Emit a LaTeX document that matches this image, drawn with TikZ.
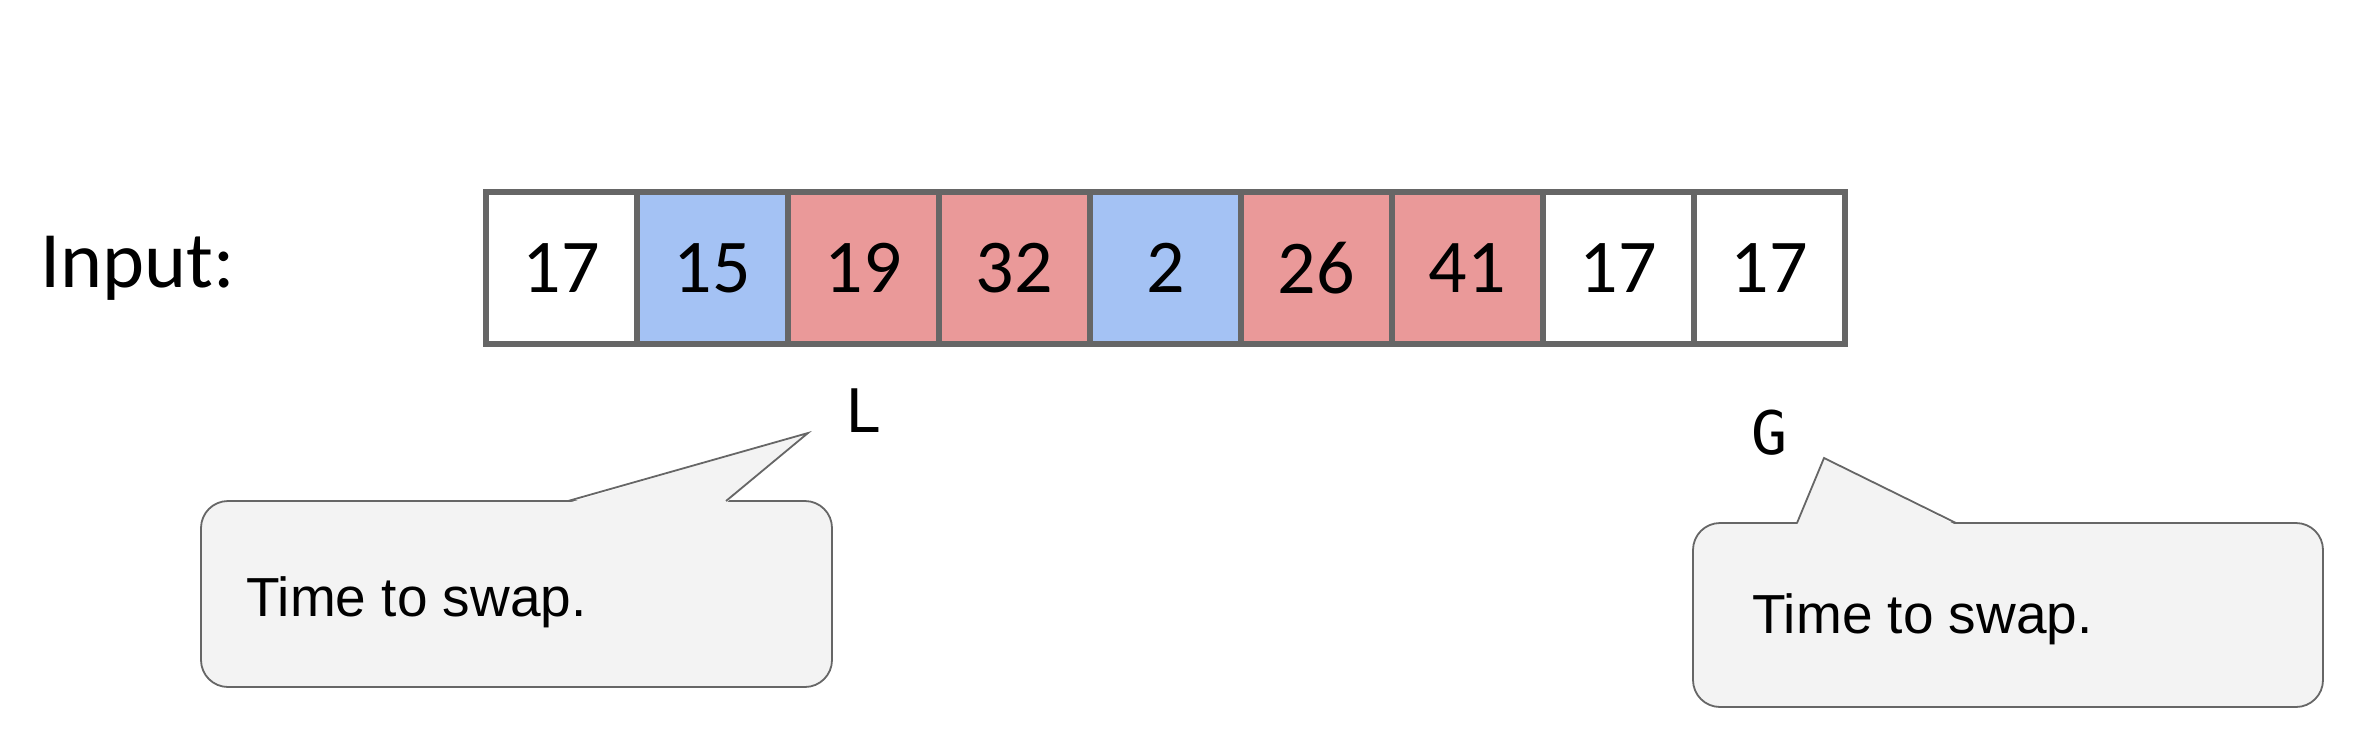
\documentclass[tikz,border=0pt]{standalone}
\usepackage{fontspec}
\setmainfont{Carlito}
\newfontfamily\calloutfont{Liberation Sans}
\newfontfamily\monofont{DejaVu Sans Mono}
\definecolor{cellblue}{HTML}{A4C2F4}
\definecolor{cellred}{HTML}{EA9999}
\definecolor{edgegray}{HTML}{666666}
\definecolor{calloutfill}{HTML}{F3F3F3}
\tikzset{
  cellbox/.style={draw=edgegray, line width=2.8pt, minimum width=75.5pt, minimum height=76pt, inner sep=0pt, font=\fontsize{38}{40}\selectfont},
  calloutshape/.style={draw=edgegray, fill=calloutfill, line width=0.9pt, rounded corners=13.5pt},
  callouttext/.style={font=\calloutfont\fontsize{27.5}{30}\selectfont, anchor=base west, inner sep=0pt},
  pointer/.style={font=\monofont\fontsize{30}{32}\selectfont, inner sep=0pt},
}
\begin{document}
\begin{tikzpicture}[x=0.5pt,y=-0.5pt]
\useasboundingbox (0,0) rectangle (2368,734);
\node[anchor=base west, inner sep=0pt, font=\fontsize{40}{44}\selectfont] (input) at (40,287) {Input:};
\foreach \v/\c [count=\i] in {17/white,15/cellblue,19/cellred,32/cellred,2/cellblue,26/cellred,41/cellred,17/white,17/white}{
  \node[cellbox, fill=\c] (c\i) at ({486+151*(\i-0.5)},268) {\v};
}
\node[pointer] (L) at (864,411) {L};
\node[pointer] (G) at (1770,433) {G};
% callout 1
\draw[calloutshape] (201,501) rectangle (832,687);
\fill[calloutfill] (568,503) -- (808,433) -- (726,503) -- cycle;
\draw[edgegray, line width=0.9pt, line join=miter] (568,501) -- (808,433) -- (726,501);
\node[callouttext] (t1) at (246,616) {Time to swap.};
% callout 2
\draw[calloutshape] (1693,523) rectangle (2323,707);
\fill[calloutfill] (1797,525) -- (1824,458) -- (1956,525) -- cycle;
\draw[edgegray, line width=0.9pt, line join=miter] (1797,523) -- (1824,458) -- (1956,523);
\node[callouttext] (t2) at (1752,633) {Time to swap.};
\end{tikzpicture}
\end{document}
